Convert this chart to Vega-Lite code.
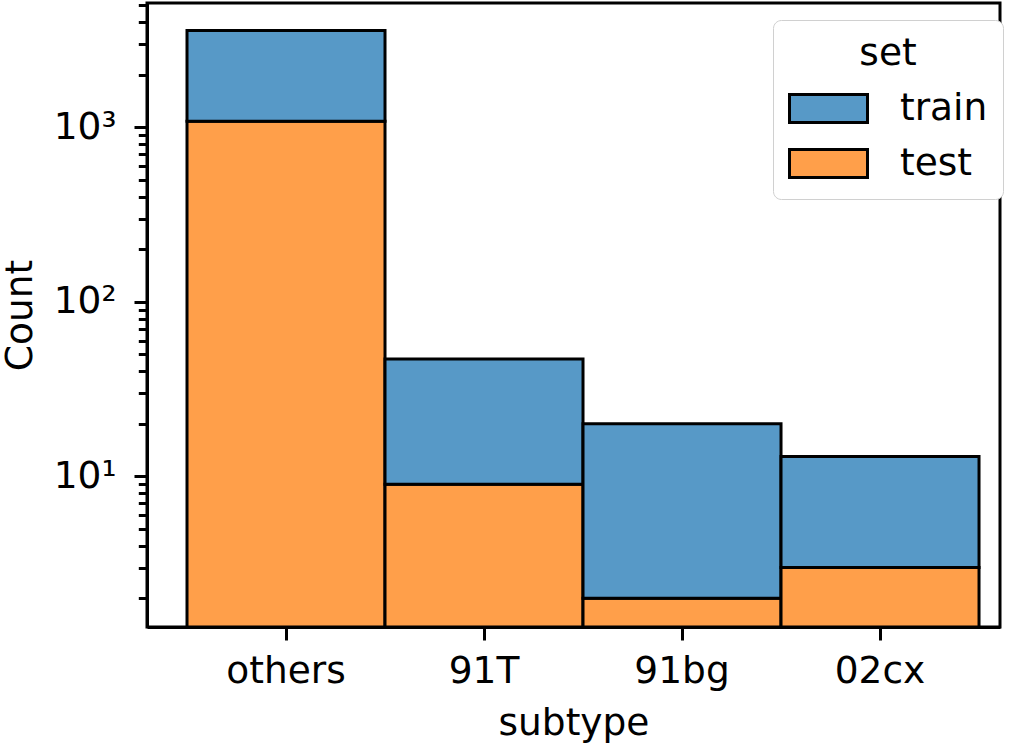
{
  "$schema": "https://vega.github.io/schema/vega-lite/v6.json",
  "width": 853,
  "height": 624,
  "autosize": {"type": "none"},
  "padding": {"left": 147, "top": 3, "right": 22, "bottom": 116},
  "background": "white",
  "data": {
    "values": [
      {"subtype": "others", "set": "test", "count": 1082},
      {"subtype": "others", "set": "train", "count": 2502},
      {"subtype": "91T", "set": "test", "count": 9},
      {"subtype": "91T", "set": "train", "count": 38},
      {"subtype": "91bg", "set": "test", "count": 2},
      {"subtype": "91bg", "set": "train", "count": 18},
      {"subtype": "02cx", "set": "test", "count": 3},
      {"subtype": "02cx", "set": "train", "count": 10}
    ]
  },
  "transform": [
    {
      "stack": "count",
      "groupby": ["subtype"],
      "sort": [{"field": "set", "order": "ascending"}],
      "as": ["lo", "hi"]
    }
  ],
  "mark": {"type": "bar", "stroke": "black", "strokeWidth": 3, "opacity": 1, "clip": true},
  "encoding": {
    "x": {
      "field": "subtype",
      "type": "nominal",
      "sort": ["others", "91T", "91bg", "02cx"],
      "scale": {"paddingInner": 0, "paddingOuter": 0.154, "align": 0.656},
      "axis": {"labelAngle": 0, "tickSize": 13, "labelPadding": 12, "titlePadding": 15},
      "title": "subtype"
    },
    "y": {
      "field": "hi",
      "type": "quantitative",
      "scale": {"type": "log", "domain": [1.37, 5150], "clamp": true, "nice": false},
      "axis": {
        "values": [2, 3, 4, 5, 6, 7, 8, 9, 10, 20, 30, 40, 50, 60, 70, 80, 90, 100, 200, 300, 400, 500, 600, 700, 800, 900, 1000, 2000, 3000, 4000, 5000],
        "labelExpr": "datum.value == 10 ? '10¹' : datum.value == 100 ? '10²' : datum.value == 1000 ? '10³' : ''",
        "labelOverlap": false,
        "tickSize": {"condition": {"test": "datum.value == 10 || datum.value == 100 || datum.value == 1000", "value": 13}, "value": 8.7},
        "labelPadding": 18,
        "titlePadding": 14
      },
      "title": "Count"
    },
    "y2": {"field": "lo"},
    "color": {
      "field": "set",
      "type": "nominal",
      "scale": {"domain": ["train", "test"], "range": ["#5799c7", "#ff9f4a"]},
      "legend": {
        "orient": "none",
        "legendX": 626,
        "legendY": 17,
        "title": "set",
        "symbolType": "M-1,-0.72H3V0.72H-1Z",
        "symbolSize": 1521,
        "symbolStrokeColor": "black",
        "symbolStrokeWidth": 3,
        "symbolOpacity": 1,
        "labelOffset": 70,
        "rowPadding": 13,
        "titlePadding": 15,
        "padding": 15,
        "strokeColor": "#d0d0d0",
        "cornerRadius": 8,
        "fillColor": "white",
        "titleAnchor": "middle",
        "titleAlign": "center"
      }
    }
  },
  "config": {
    "view": {"stroke": "black", "strokeWidth": 3},
    "axis": {
      "labelFont": "DejaVu Sans",
      "titleFont": "DejaVu Sans",
      "labelFontSize": 37.5,
      "titleFontSize": 37.5,
      "titleFontWeight": "normal",
      "labelColor": "black",
      "titleColor": "black",
      "domainColor": "black",
      "domainWidth": 3,
      "tickColor": "black",
      "tickWidth": 3,
      "grid": false
    },
    "legend": {
      "labelFont": "DejaVu Sans",
      "titleFont": "DejaVu Sans",
      "labelFontSize": 37.5,
      "titleFontSize": 37.5,
      "titleFontWeight": "normal",
      "labelColor": "black",
      "titleColor": "black"
    }
  }
}
